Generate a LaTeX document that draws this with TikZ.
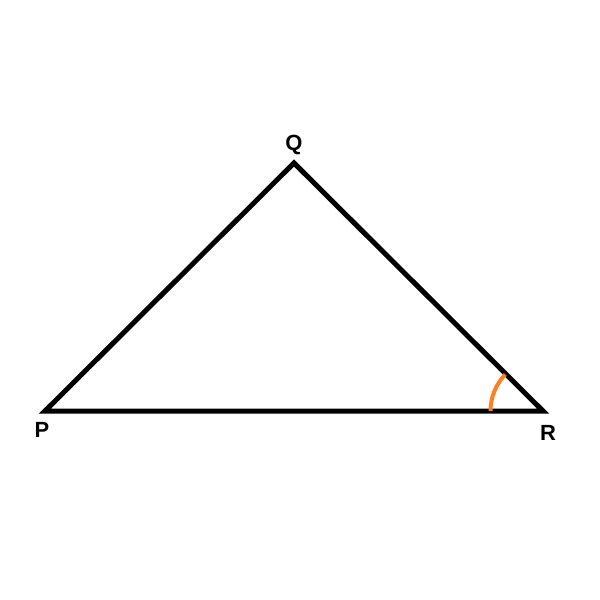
\documentclass[tikz,border=0pt]{standalone}
\usepackage{fontspec}
\setmainfont{Liberation Sans}
\usetikzlibrary{positioning}
\tikzset{
        % Triangle sides
        side/.style={line width=0.1cm, line join=miter, black},
        % Vertex labels
        vertex_label/.style={font=\bfseries\fontsize{12.5}{14}\selectfont, inner sep=0pt},
        % Angle mark
        angle_mark/.style={line width=0.08cm, draw={rgb,255:red,255;green,127;blue,39}}
}
\begin{document}
\begin{tikzpicture}[x=0.02cm, y=-0.02cm]
    \useasboundingbox (0,0) rectangle (600,600);
    \coordinate (P) at (45,411);
    \coordinate (Q) at (294,163);
    \coordinate (R) at (543,411);
    \draw[side] (P) -- (Q) -- (R) -- cycle;
    \draw[angle_mark] ([xshift=-1.05cm]R) arc[start angle=180, end angle=136, radius=1.05cm];
    \node[vertex_label] (Qlabel) at (294,145) {Q};
    \node[vertex_label] (Plabel) at (42,430) {P};
    \node[vertex_label] (Rlabel) at (548,433) {R};
\end{tikzpicture}
\end{document}
